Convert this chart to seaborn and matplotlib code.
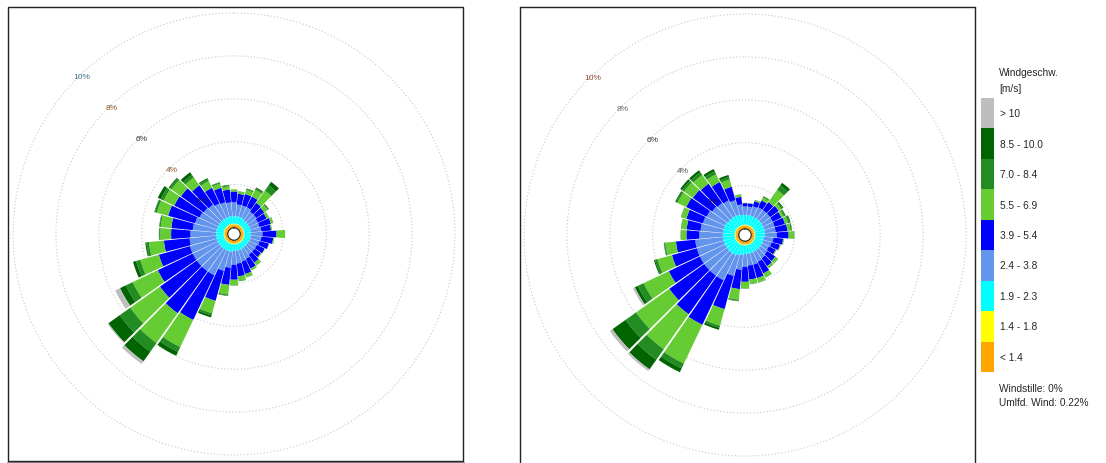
import numpy as np
import pandas as pd
import matplotlib
matplotlib.use("Agg")
import matplotlib.pyplot as plt
import seaborn as sns
from matplotlib.patches import Rectangle
from matplotlib.lines import Line2D

# --- Daten: Windrichtung (10°-Sektoren) und Anteile je Geschwindigkeitsklasse in % ---
directions = list(range(0, 360, 10))

speed_labels = ["< 1.4", "1.4 - 1.8", "1.9 - 2.3", "2.4 - 3.8", "3.9 - 5.4",
                "5.5 - 6.9", "7.0 - 8.4", "8.5 - 10.0", "> 10"]
speed_colors = ["#FFA500", "#FFFF00", "#00FFFF", "#6495ED", "#0000FF",
                "#66CC33", "#228B22", "#006400", "#BEBEBE"]

ring_values = [2, 4, 6, 8, 10]

# linke Windrose
left_orange = [0.15, 0.15, 0.15, 0.15, 0.15, 0.15, 0.15, 0.15, 0.15,
               0.15, 0.15, 0.15, 0.15, 0.15, 0.15, 0.15, 0.15, 0.15,
               0.15, 0.15, 0.15, 0.15, 0.15, 0.15, 0.15, 0.15, 0.15,
               0.15, 0.15, 0.15, 0.15, 0.15, 0.15, 0.15, 0.15, 0.15]
left_yellow = [0.03, 0.03, 0.03, 0.03, 0.03, 0.03, 0.03, 0.03, 0.03,
               0.03, 0.03, 0.03, 0.03, 0.03, 0.03, 0.03, 0.03, 0.03,
               0.03, 0.03, 0.03, 0.03, 0.03, 0.03, 0.03, 0.03, 0.03,
               0.03, 0.03, 0.03, 0.03, 0.03, 0.03, 0.03, 0.03, 0.03]
left_cyan = [0.35, 0.35, 0.35, 0.35, 0.30, 0.30, 0.30, 0.30, 0.30,
             0.30, 0.30, 0.30, 0.28, 0.28, 0.28, 0.30, 0.30, 0.30,
             0.30, 0.35, 0.35, 0.35, 0.35, 0.35, 0.35, 0.35, 0.35,
             0.35, 0.35, 0.35, 0.35, 0.35, 0.35, 0.35, 0.35, 0.35]
left_corn = [0.65, 0.55, 0.55, 0.55, 0.50, 0.50, 0.45, 0.45, 0.50,
             0.55, 0.50, 0.45, 0.42, 0.42, 0.42, 0.50, 0.55, 0.60,
             0.65, 0.75, 0.95, 1.30, 1.30, 1.30, 1.30, 1.30, 1.25,
             1.20, 1.10, 1.05, 0.95, 0.90, 0.85, 0.75, 0.70, 0.65]
left_blue = [0.50, 0.50, 0.55, 0.55, 0.50, 0.45, 0.45, 0.55, 0.45,
             0.65, 0.55, 0.45, 0.40, 0.35, 0.45, 0.50, 0.60, 0.60,
             0.70, 0.80, 1.45, 2.30, 2.40, 2.10, 1.80, 1.50, 1.20,
             0.90, 1.00, 1.30, 1.30, 1.30, 1.10, 0.80, 0.70, 0.60]
left_lime = [0.10, 0.10, 0.20, 0.35, 0.70, 0.20, 0.10, 0.10, 0.05,
             0.40, 0.05, 0.02, 0.02, 0.05, 0.15, 0.10, 0.15, 0.20,
             0.25, 0.45, 0.60, 1.40, 1.70, 1.70, 1.30, 0.90, 0.70,
             0.50, 0.50, 0.55, 0.55, 0.55, 0.45, 0.35, 0.20, 0.15]
left_forest = [0.00, 0.02, 0.05, 0.08, 0.30, 0.05, 0.02, 0.02, 0.00,
               0.00, 0.00, 0.00, 0.00, 0.00, 0.02, 0.00, 0.02, 0.03,
               0.02, 0.05, 0.10, 0.25, 0.50, 0.60, 0.35, 0.20, 0.12,
               0.05, 0.05, 0.10, 0.15, 0.10, 0.15, 0.10, 0.05, 0.05]
left_dark = [0.00, 0.00, 0.02, 0.04, 0.20, 0.02, 0.00, 0.00, 0.00,
             0.00, 0.00, 0.00, 0.00, 0.00, 0.00, 0.00, 0.00, 0.00,
             0.00, 0.02, 0.10, 0.20, 0.55, 0.65, 0.30, 0.15, 0.05,
             0.02, 0.02, 0.02, 0.15, 0.05, 0.15, 0.05, 0.02, 0.02]
left_gray = [0.00, 0.00, 0.00, 0.00, 0.02, 0.00, 0.00, 0.00, 0.00,
             0.00, 0.00, 0.00, 0.00, 0.00, 0.00, 0.00, 0.00, 0.00,
             0.00, 0.00, 0.00, 0.00, 0.15, 0.05, 0.25, 0.00, 0.00,
             0.00, 0.00, 0.00, 0.00, 0.00, 0.00, 0.00, 0.00, 0.00]

# rechte Windrose
right_orange = [0.15, 0.15, 0.15, 0.15, 0.15, 0.15, 0.15, 0.15, 0.15,
                0.15, 0.15, 0.15, 0.15, 0.15, 0.15, 0.15, 0.15, 0.15,
                0.15, 0.15, 0.15, 0.15, 0.15, 0.15, 0.15, 0.15, 0.15,
                0.15, 0.15, 0.15, 0.15, 0.15, 0.15, 0.15, 0.15, 0.15]
right_yellow = [0.03, 0.03, 0.03, 0.03, 0.03, 0.03, 0.03, 0.03, 0.03,
                0.03, 0.03, 0.03, 0.03, 0.03, 0.03, 0.03, 0.03, 0.03,
                0.03, 0.03, 0.03, 0.03, 0.03, 0.03, 0.03, 0.03, 0.03,
                0.03, 0.03, 0.03, 0.03, 0.03, 0.03, 0.03, 0.03, 0.03]
right_cyan = [0.45, 0.45, 0.45, 0.45, 0.45, 0.45, 0.45, 0.45, 0.45,
              0.45, 0.40, 0.40, 0.40, 0.40, 0.40, 0.40, 0.40, 0.40,
              0.40, 0.45, 0.50, 0.55, 0.55, 0.55, 0.55, 0.55, 0.55,
              0.55, 0.55, 0.55, 0.55, 0.50, 0.50, 0.50, 0.50, 0.45]
right_corn = [0.40, 0.40, 0.45, 0.50, 0.50, 0.50, 0.50, 0.50, 0.50,
              0.55, 0.45, 0.40, 0.35, 0.40, 0.45, 0.50, 0.55, 0.55,
              0.60, 0.70, 1.00, 1.30, 1.30, 1.30, 1.30, 1.30, 1.30,
              1.10, 1.05, 1.00, 0.95, 0.90, 0.85, 0.80, 0.70, 0.50]
right_blue = [0.15, 0.15, 0.25, 0.35, 0.45, 0.50, 0.45, 0.50, 0.55,
              0.55, 0.45, 0.40, 0.35, 0.45, 0.45, 0.60, 0.65, 0.65,
              0.70, 0.90, 1.60, 2.30, 2.20, 2.00, 1.60, 1.20, 0.90,
              0.60, 0.65, 0.80, 1.05, 1.10, 1.10, 0.95, 0.65, 0.35]
right_lime = [0.02, 0.02, 0.05, 0.15, 0.70, 0.15, 0.12, 0.15, 0.15,
              0.25, 0.02, 0.02, 0.02, 0.15, 0.10, 0.20, 0.20, 0.20,
              0.30, 0.50, 0.80, 2.00, 2.00, 1.90, 1.30, 0.70, 0.50,
              0.25, 0.25, 0.25, 0.45, 0.50, 0.50, 0.40, 0.35, 0.10]
right_forest = [0.00, 0.00, 0.02, 0.05, 0.25, 0.08, 0.07, 0.08, 0.05,
                0.02, 0.02, 0.02, 0.02, 0.02, 0.02, 0.02, 0.02, 0.02,
                0.02, 0.05, 0.10, 0.25, 0.60, 0.60, 0.30, 0.12, 0.05,
                0.02, 0.02, 0.02, 0.07, 0.12, 0.15, 0.15, 0.12, 0.02]
right_dark = [0.00, 0.00, 0.00, 0.02, 0.15, 0.04, 0.03, 0.04, 0.02,
              0.00, 0.00, 0.00, 0.00, 0.00, 0.00, 0.00, 0.00, 0.00,
              0.00, 0.02, 0.10, 0.20, 0.55, 0.75, 0.15, 0.05, 0.02,
              0.00, 0.00, 0.00, 0.05, 0.10, 0.12, 0.12, 0.10, 0.00]
right_gray = [0.00, 0.00, 0.00, 0.00, 0.00, 0.00, 0.00, 0.00, 0.00,
              0.00, 0.00, 0.00, 0.00, 0.00, 0.00, 0.00, 0.00, 0.00,
              0.00, 0.00, 0.00, 0.00, 0.10, 0.15, 0.10, 0.00, 0.00,
              0.00, 0.00, 0.00, 0.00, 0.00, 0.00, 0.00, 0.00, 0.00]

left_table = pd.DataFrame(dict(zip(speed_labels, [
    left_orange, left_yellow, left_cyan, left_corn, left_blue,
    left_lime, left_forest, left_dark, left_gray])), index=directions)
right_table = pd.DataFrame(dict(zip(speed_labels, [
    right_orange, right_yellow, right_cyan, right_corn, right_blue,
    right_lime, right_forest, right_dark, right_gray])), index=directions)

# --- Figur ---
sns.set_theme(style="white")
plt.rcParams['font.family'] = ['Liberation Sans', 'DejaVu Sans']

W, H = 1106, 464
fig = plt.figure(figsize=(W / 100, H / 100), dpi=100)


def px_axes(x0, y0, x1, y1, **kw):
    # Pixelkoordinaten (Ursprung oben links)
    return fig.add_axes([x0 / W, 1 - y1 / H, (x1 - x0) / W, (y1 - y0) / H], **kw)


def draw_rose(cx, cy, table, label_colors):
    ax = px_axes(cx - 230, cy - 230, cx + 230, cy + 230, projection='polar')
    ax.set_theta_zero_location('N')
    ax.set_theta_direction(-1)
    theta = np.deg2rad(table.index.to_numpy())
    bottom = np.zeros(len(theta))
    for label, color in zip(speed_labels, speed_colors):
        vals = table[label].to_numpy()
        ax.bar(theta, vals, width=np.deg2rad(9.2), bottom=bottom,
               color=color, linewidth=0, zorder=3)
        bottom += vals
    ax.set_ylim(0, 10.42)
    ax.set_rorigin(-0.303)
    ax.set_rticks(ring_values)
    ax.set_yticklabels([])
    ax.set_xticks([])
    ax.yaxis.grid(True, color='#c8c8c8', linestyle=(0, (1, 2)), linewidth=0.8)
    ax.spines['polar'].set_visible(False)
    ax.set_facecolor('none')
    for v, c in zip(ring_values, label_colors):
        ax.text(np.deg2rad(316), v - 0.12, f"{v}%", color=c, fontsize=6,
                ha='center', va='center', zorder=5)
    return ax


# Rahmen
fig.add_artist(Rectangle((8 / W, 1 - 462 / H), 455 / W, 454 / H,
                         transform=fig.transFigure, fill=False,
                         edgecolor='#222222', linewidth=1))
fig.add_artist(Line2D([8 / W, 464 / W], [1 - 463.5 / H, 1 - 463.5 / H],
                      transform=fig.transFigure, color='#777777', linewidth=1.5))
for xs, ys in [([520, 975], [8, 8]), ([520, 520], [8, 464]), ([975, 975], [8, 464])]:
    fig.add_artist(Line2D([x / W for x in xs], [1 - y / H for y in ys],
                          transform=fig.transFigure, color='#222222', linewidth=1))

draw_rose(234, 235, left_table, ['#1a1a55', '#8b5a2b', '#333333', '#8b5a2b', '#3f6f7f'])
draw_rose(745, 236, right_table, ['#1a1a55', '#555555', '#333333', '#666666', '#8b4a3a'])

# Legende
lax = px_axes(981, 99, 994, 373)
lax.barh(range(len(speed_labels)), 1, height=1, color=speed_colors, linewidth=0)
lax.set_xlim(0, 1)
lax.set_ylim(-0.5, len(speed_labels) - 0.5)
lax.axis('off')
for i, label in enumerate(speed_labels):
    lax.text(19 / 13, i, label, fontsize=7.3, va='center', ha='left', clip_on=False)

fig.text(999 / W, 1 - 73 / H, "Windgeschw.", fontsize=7.3, va='center')
fig.text(999 / W, 1 - 89 / H, "[m/s]", fontsize=7.3, va='center')
fig.text(999 / W, 1 - 389 / H, "Windstille: 0%", fontsize=7.3, va='center')
fig.text(999 / W, 1 - 403 / H, "Umlfd. Wind: 0.22%", fontsize=7.3, va='center')

fig.savefig('out.png', dpi=100)
